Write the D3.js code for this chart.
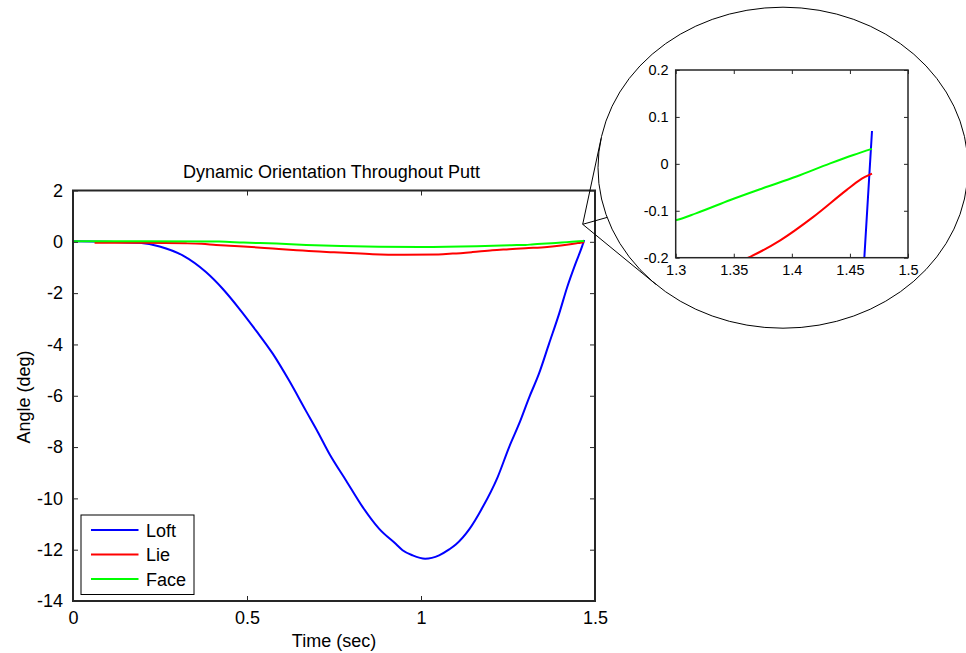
<!DOCTYPE html>
<html><head><meta charset="utf-8">
<script src="https://cdn.jsdelivr.net/npm/d3@7"></script>
<style>body{margin:0;background:#fff}svg{display:block}text{font-family:"Liberation Sans",Arial,sans-serif;fill:#000}</style>
</head><body>
<svg id="c" width="966" height="653"></svg>
<script>
// ---- data ----
const loftT = [0,0.1,0.191,0.249,0.315,0.382,0.43,0.478,0.526,0.574,0.621,0.669,0.703,0.737,0.785,0.833,0.88,0.928,0.947,0.976,1.012,1.052,1.081,1.1,1.139,1.177,1.22,1.253,1.282,1.311,1.339,1.368,1.397,1.42,1.444,1.4624,1.469];
const loftV = [0.02,0.0,-0.04,-0.18,-0.53,-1.18,-1.83,-2.61,-3.46,-4.36,-5.41,-6.58,-7.4,-8.27,-9.31,-10.35,-11.19,-11.78,-12.02,-12.22,-12.35,-12.22,-11.99,-11.8,-11.2,-10.35,-9.18,-8.01,-7.09,-6.06,-5.14,-3.97,-2.8,-1.77,-0.85,-0.2,0.07];
const lieT = [0.062,0.2,0.325,0.37,0.411,0.45,0.49,0.53,0.574,0.612,0.66,0.707,0.75,0.795,0.861,0.95,1.05,1.091,1.148,1.205,1.253,1.3,1.3625,1.39,1.4185,1.447,1.4587,1.469];
const lieV = [-0.04,-0.04,-0.06,-0.08,-0.12,-0.15,-0.18,-0.22,-0.26,-0.3,-0.34,-0.38,-0.41,-0.44,-0.48,-0.5,-0.49,-0.46,-0.4,-0.33,-0.29,-0.25,-0.2,-0.163,-0.113,-0.056,-0.034,-0.021];
const faceT = [0,0.2,0.42,0.49,0.585,0.67,0.77,0.88,1.0,1.16,1.26,1.3,1.318,1.347,1.375,1.404,1.433,1.453,1.469];
const faceV = [0.02,0.02,0.01,-0.03,-0.07,-0.12,-0.16,-0.19,-0.2,-0.17,-0.13,-0.12,-0.105,-0.077,-0.052,-0.027,0.001,0.019,0.032];
const seriesNames = ["Loft","Lie","Face"];
const seriesColors = ["#0000ff","#ff0000","#00ff00"];
const xTicks = [0,0.5,1,1.5];
const yTicks = [2,0,-2,-4,-6,-8,-10,-12,-14];
const insetXTicks = [1.3,1.35,1.4,1.45,1.5];
const insetYTicks = [-0.2,-0.1,0,0.1,0.2];
const titleText = "Dynamic Orientation Throughout Putt";
const xLabel = "Time (sec)";
const yLabel = "Angle (deg)";

const series = [
  loftT.map((t,i)=>[t,loftV[i]]),
  lieT.map((t,i)=>[t,lieV[i]]),
  faceT.map((t,i)=>[t,faceV[i]])
];

const svg = d3.select("#c");
const fmt = d => String(d);

function drawAxes(g, x, y, xt, yt, fs, sw, tickLen, gap){
  const [x0,x1] = x.range(), [y0,y1] = y.range();
  const ax = g.append("g");
  ax.append("g").attr("transform",`translate(0,${y0})`)
    .call(d3.axisBottom(x).tickValues(xt).tickFormat(fmt).tickSizeInner(-tickLen).tickSizeOuter(0).tickPadding(gap+tickLen));
  ax.append("g").attr("transform",`translate(0,${y1})`)
    .call(d3.axisTop(x).tickValues(xt).tickFormat("").tickSizeInner(-tickLen).tickSizeOuter(0));
  ax.append("g").attr("transform",`translate(${x0},0)`)
    .call(d3.axisLeft(y).tickValues(yt).tickFormat(fmt).tickSizeInner(-tickLen).tickSizeOuter(0).tickPadding(gap+tickLen));
  ax.append("g").attr("transform",`translate(${x1},0)`)
    .call(d3.axisRight(y).tickValues(yt).tickFormat("").tickSizeInner(-tickLen).tickSizeOuter(0));
  ax.selectAll(".domain").remove();
  ax.selectAll(".tick line").attr("stroke","#262626").attr("stroke-width",1);
  ax.selectAll(".tick text").attr("font-size",fs).attr("font-family",'"Liberation Sans",Arial,sans-serif').attr("fill","#000");
  ax.append("rect").attr("x",x0).attr("y",y1).attr("width",x1-x0).attr("height",y0-y1)
    .attr("fill","none").attr("stroke","#262626").attr("stroke-width",sw);
  return ax;
}

// ---- main plot ----
const x = d3.scaleLinear().domain([0,1.5]).range([73,595]);
const y = d3.scaleLinear().domain([-14,2]).range([601,190.5]);
svg.append("clipPath").attr("id","mclip").append("rect")
  .attr("x",73).attr("y",190.5).attr("width",522).attr("height",410.5);
const line = d3.line().curve(d3.curveMonotoneX).x(d=>x(d[0])).y(d=>y(d[1]));
const mg = svg.append("g").attr("clip-path","url(#mclip)");
series.forEach((s,i)=>{
  mg.append("path").attr("d",line(s)).attr("fill","none")
    .attr("stroke",seriesColors[i]).attr("stroke-width",2).attr("stroke-linejoin","round");
});
drawAxes(svg.append("g"), x, y, xTicks, yTicks, 18, 2, 5, 5);

svg.append("text").attr("x",331.5).attr("y",177.5).attr("text-anchor","middle").attr("font-size",18).text(titleText);
svg.append("text").attr("x",334).attr("y",647).attr("text-anchor","middle").attr("font-size",18).text(xLabel);
svg.append("text").attr("transform","translate(30,397) rotate(-90)").attr("text-anchor","middle").attr("font-size",18).text(yLabel);

// legend
const lg = svg.append("g");
lg.append("rect").attr("x",81).attr("y",515).attr("width",113).attr("height",79.5)
  .attr("fill","#fff").attr("stroke","#000").attr("stroke-width",1);
seriesNames.forEach((n,i)=>{
  const yy = 530 + i*24.5;
  lg.append("line").attr("x1",91).attr("x2",138.5).attr("y1",yy).attr("y2",yy)
    .attr("stroke",seriesColors[i]).attr("stroke-width",2);
  lg.append("text").attr("x",146).attr("y",yy+6.5).attr("font-size",18).text(n);
});

// ---- magnifier callout ----
const E = {cx:783, cy:167.7, rx:185, ry:160.5};
const P = [582.7, 224.3];
svg.append("ellipse").attr("cx",E.cx).attr("cy",E.cy).attr("rx",E.rx).attr("ry",E.ry)
  .attr("fill","none").attr("stroke","#000").attr("stroke-width",1);
{
  const px=(P[0]-E.cx)/E.rx, py=(P[1]-E.cy)/E.ry;
  const n2=px*px+py*py, k=Math.sqrt(n2-1)/n2;
  const pts=[[px/n2 - py*k, py/n2 + px*k],[px/n2 + py*k, py/n2 - px*k]];
  pts.forEach(p=>{
    svg.append("line").attr("x1",P[0]).attr("y1",P[1])
      .attr("x2",E.cx+p[0]*E.rx).attr("y2",E.cy+p[1]*E.ry).attr("stroke","#000").attr("stroke-width",1);
  });
  const d=Math.sqrt(n2), ux=px/d, uy=py/d;
  svg.append("line").attr("x1",P[0]).attr("y1",P[1])
    .attr("x2",E.cx+ux*E.rx).attr("y2",E.cy+uy*E.ry).attr("stroke","#000").attr("stroke-width",1);
}

// ---- inset ----
const xi = d3.scaleLinear().domain([1.3,1.5]).range([675.7,908]);
const yi = d3.scaleLinear().domain([-0.2,0.2]).range([257.7,70]);
svg.append("clipPath").attr("id","iclip").append("rect")
  .attr("x",675.7).attr("y",70).attr("width",232.3).attr("height",187.7);
const ig = svg.append("g");
ig.append("rect").attr("x",675.7).attr("y",70).attr("width",232.3).attr("height",187.7).attr("fill","#fff");
const iline = d3.line().curve(d3.curveMonotoneX).x(d=>xi(d[0])).y(d=>yi(d[1]));
const igc = ig.append("g").attr("clip-path","url(#iclip)");
series.forEach((s,i)=>{
  igc.append("path").attr("d",iline(s)).attr("fill","none")
    .attr("stroke",seriesColors[i]).attr("stroke-width",2).attr("stroke-linejoin","round");
});
drawAxes(ig, xi, yi, insetXTicks, insetYTicks, 14.5, 1.5, 4, 3);
</script>
</body></html>
